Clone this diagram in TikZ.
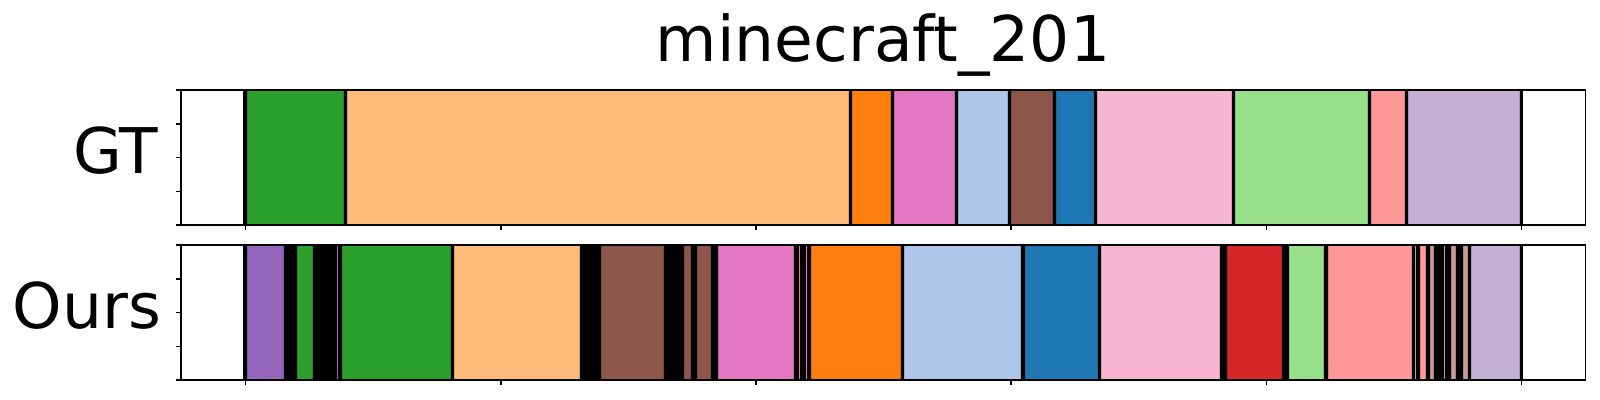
\documentclass[tikz,border=0pt]{standalone}
\usepackage{fontspec}
\setmainfont{DejaVu Sans}
\definecolor{tgreen}{HTML}{2CA02C}
\definecolor{tlorange}{HTML}{FFBB78}
\definecolor{torange}{HTML}{FF7F0E}
\definecolor{tpink}{HTML}{E377C2}
\definecolor{tlblue}{HTML}{AEC7E8}
\definecolor{tbrown}{HTML}{8C564B}
\definecolor{tblue}{HTML}{1F77B4}
\definecolor{tlpink}{HTML}{F7B6D2}
\definecolor{tlgreen}{HTML}{98DF8A}
\definecolor{tsalmon}{HTML}{FF9896}
\definecolor{tlav}{HTML}{C5B0D5}
\definecolor{tpurple}{HTML}{9467BD}
\definecolor{tred}{HTML}{D62728}
\definecolor{tlbrown}{HTML}{C49C94}
\tikzset{
  seg/.style={line width=0.35pt},
  frame/.style={draw=black,line width=0.8pt},
  tick/.style={draw=black,line width=0.8pt},
  lbl/.style={font=\fontsize{31.5}{36}\selectfont,inner sep=0pt}
}
\begin{document}
\begin{tikzpicture}[x=0.5pt,y=-0.5pt]
\useasboundingbox (0,0) rectangle (1600,400);
\fill[white] (0,0) rectangle (1600,400);
% title and row labels
\node[lbl,anchor=base] (title) at (883,61.7) {minecraft\_201};
\node[lbl,anchor=base east] (gt) at (158.5,174) {GT};
\node[lbl,anchor=base east] (ours) at (161.5,329) {Ours};
% GT row
\fill[black] (243,90.3) rectangle (1523,225);
\foreach \a/\b/\c in {247/343/tgreen,347/848/tlorange,852/890/torange,894/954/tpink,958/1007/tlblue,1011/1052/tbrown,1056/1093/tblue,1097/1231/tlpink,1235/1367/tlgreen,1371/1404/tsalmon,1408/1519/tlav}
  \filldraw[seg,fill=\c,draw=\c!85!black] (\a,90.3) rectangle (\b,225);
% Ours row
\fill[black] (243,245.3) rectangle (1523,380);
\foreach \a/\b/\c in {247/283/tpurple,297/312/tgreen,342/450/tgreen,454/579.3/tlorange,601/663.7/tbrown,684/690/tbrown,697/710.7/tbrown,718/793/tpink,811/900/torange,904/1020.7/tlblue,1025/1097/tblue,1101/1219/tlpink,1227/1281/tred,1289/1323/tlgreen,1328/1411/tsalmon,1420/1425.5/tsalmon,1430/1433/tlbrown,1451/1455/tlbrown,1463/1467/tlbrown,1471/1519/tlav}
  \filldraw[seg,fill=\c,draw=\c!85!black] (\a,245.3) rectangle (\b,380);
\foreach \a/\c in {337.5/tpurple,799.5/tpink,806.5/tpink,1415.5/tlbrown,1444.5/tlbrown}
  \draw[line width=0.4pt,draw=\c] (\a,245.3) -- (\a,380);
% frames
\draw[frame] (181,90.3) rectangle (1585.3,225);
\draw[frame] (181,245.3) rectangle (1585.3,380);
% y ticks
\foreach \k in {0,1,2,3,4}{
  \draw[tick] (176,90.3+33.675*\k) -- (181,90.3+33.675*\k);
  \draw[tick] (176,245.3+33.675*\k) -- (181,245.3+33.675*\k);
}
% x ticks
\foreach \k in {0,1,2,3,4,5}{
  \draw[tick] (245.5+255.2*\k,225) -- (245.5+255.2*\k,230);
  \draw[tick] (245.5+255.2*\k,380) -- (245.5+255.2*\k,385);
}
\end{tikzpicture}
\end{document}
